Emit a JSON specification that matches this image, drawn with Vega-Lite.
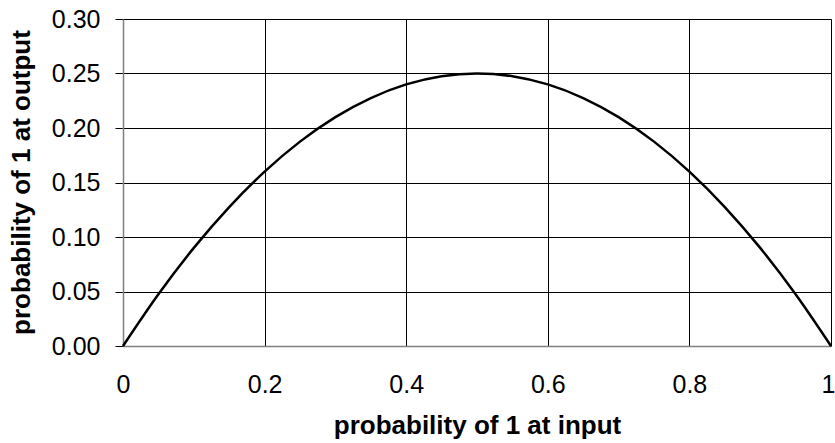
{
  "$schema": "https://vega.github.io/schema/vega-lite/v6.json",
  "width": 708,
  "height": 327,
  "autosize": {"type": "none"},
  "padding": {"left": 123, "top": 19, "right": 4, "bottom": 97},
  "background": "white",
  "config": {
    "view": {"stroke": "#808080", "strokeWidth": 1},
    "font": "Liberation Sans"
  },
  "data": {
    "values": [
      {"p": 0.0, "q": 0.0},
      {"p": 0.05, "q": 0.0475},
      {"p": 0.1, "q": 0.09},
      {"p": 0.15, "q": 0.1275},
      {"p": 0.2, "q": 0.16},
      {"p": 0.25, "q": 0.1875},
      {"p": 0.3, "q": 0.21},
      {"p": 0.35, "q": 0.2275},
      {"p": 0.4, "q": 0.24},
      {"p": 0.45, "q": 0.2475},
      {"p": 0.5, "q": 0.25},
      {"p": 0.55, "q": 0.2475},
      {"p": 0.6, "q": 0.24},
      {"p": 0.65, "q": 0.2275},
      {"p": 0.7, "q": 0.21},
      {"p": 0.75, "q": 0.1875},
      {"p": 0.8, "q": 0.16},
      {"p": 0.85, "q": 0.1275},
      {"p": 0.9, "q": 0.09},
      {"p": 0.95, "q": 0.0475},
      {"p": 1.0, "q": 0.0}
    ]
  },
  "mark": {"type": "line", "color": "black", "strokeWidth": 2.5, "interpolate": "monotone"},
  "encoding": {
    "x": {
      "field": "p",
      "type": "quantitative",
      "scale": {"domain": [0, 1], "nice": false, "zero": false},
      "axis": {
        "title": "probability of 1 at input",
        "values": [0, 0.2, 0.4, 0.6, 0.8, 1],
        "format": "~g",
        "grid": true,
        "gridColor": "black",
        "gridOpacity": 1,
        "gridWidth": 1,
        "domainColor": "#808080",
        "domainWidth": 1.5,
        "ticks": false,
        "tickSize": 0,
        "labelFont": "Liberation Sans",
        "labelFontSize": 25,
        "labelColor": "black",
        "labelBaseline": "alphabetic",
        "labelPadding": 46,
        "labelFlush": false,
        "labelOverlap": false,
        "labelOffset": {"condition": {"test": "datum.value === 1", "value": -3}, "value": 0},
        "titleFont": "Liberation Sans",
        "titleFontSize": 26,
        "titleFontWeight": "bold",
        "titleColor": "black",
        "titleBaseline": "alphabetic",
        "titleAlign": "center",
        "titleX": 354,
        "titleY": 87
      }
    },
    "y": {
      "field": "q",
      "type": "quantitative",
      "scale": {"domain": [0, 0.3], "nice": false, "zero": false},
      "axis": {
        "title": "probability of 1 at output",
        "values": [0, 0.05, 0.1, 0.15, 0.2, 0.25, 0.3],
        "format": ".2f",
        "grid": true,
        "gridColor": "black",
        "gridOpacity": 1,
        "gridWidth": 1,
        "domainColor": "#808080",
        "domainWidth": 1.5,
        "ticks": true,
        "tickSize": 8,
        "tickColor": "black",
        "tickWidth": 1,
        "labelFont": "Liberation Sans",
        "labelFontSize": 25,
        "labelColor": "black",
        "labelPadding": 15,
        "labelFlush": false,
        "labelOverlap": false,
        "labelBaseline": "middle",
        "titleFont": "Liberation Sans",
        "titleFontSize": 26,
        "titleFontWeight": "bold",
        "titleColor": "black",
        "titleAngle": -90,
        "titleBaseline": "alphabetic",
        "titleAlign": "center",
        "titleX": -94,
        "titleY": 163
      }
    }
  }
}
